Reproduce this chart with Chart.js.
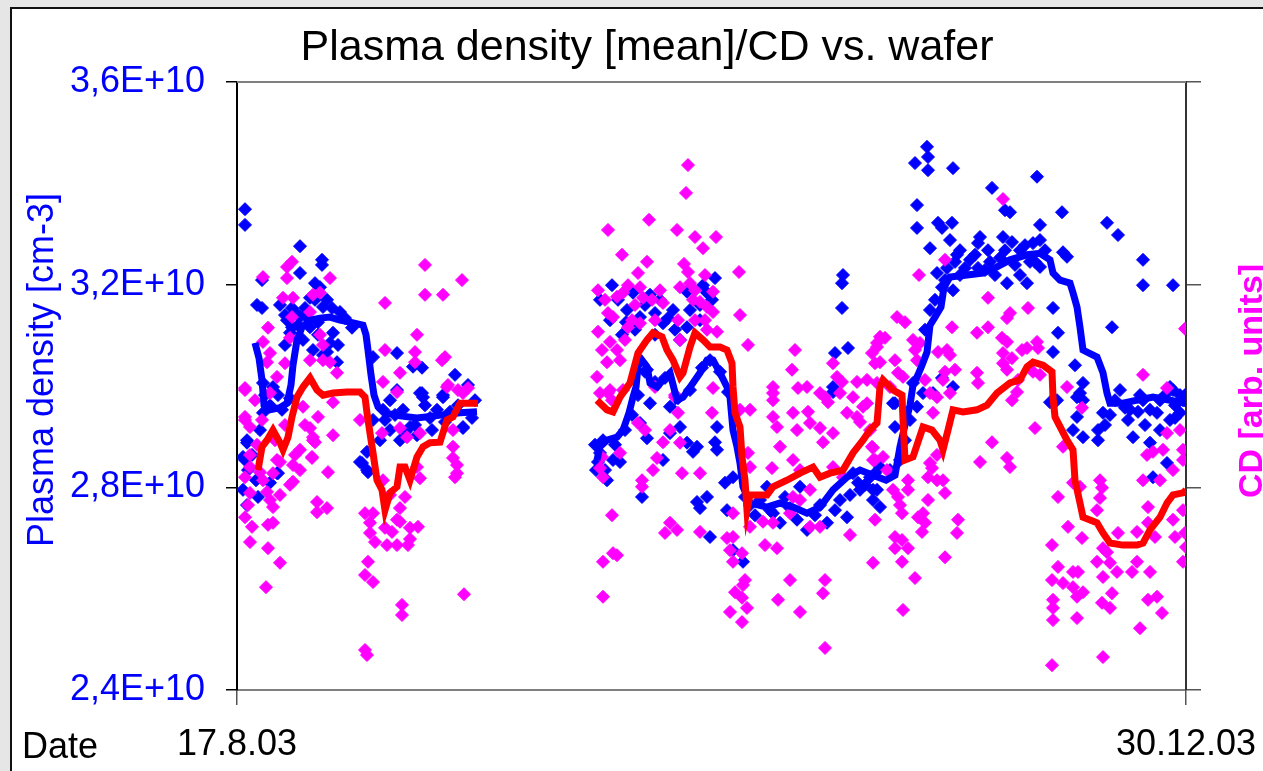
<!DOCTYPE html>
<html>
<head>
<meta charset="utf-8">
<title>Plasma density [mean]/CD vs. wafer</title>
<script src="https://cdn.jsdelivr.net/npm/chart.js@4.4.1/dist/chart.umd.min.js"></script>
<style>
    html, body { margin: 0; padding: 0; width: 1263px; height: 771px; overflow: hidden; background: #e6e6e6; }
    #frame { position: absolute; left: 10px; top: 7px; width: 1300px; height: 800px; background: #fff; border: 2px solid #111; }
    #wrap { position: absolute; left: 0; top: 0; width: 1263px; height: 771px; }
</style>
</head>
<body>
<div id="frame"></div>
<div id="wrap"><canvas id="PlasmaChart" width="1263" height="771"></canvas></div>
<script>
var titleText = 'Plasma density [mean]/CD vs. wafer';
var yTitle = 'Plasma density [cm-3]';
var y2Title = 'CD [arb. units]';
var xTitle = 'Date';
var dateLabels = ['17.8.03', '30.12.03'];
var waferCount = 949;

// plasma density per wafer [1E10 cm-3]
var plasmaPoints = [
    [8,3.349],[8,3.318],[63,3.276],[85,3.249],[85,3.239],[63,3.223],[25,3.209],[78,3.203],[83,3.195],[20,3.160],
    [25,3.154],[43,3.160],[55,3.154],[73,3.174],[95,3.154],[86,3.156],[50,3.130],[55,3.116],[63,3.136],[73,3.116],
    [96,3.105],[101,3.081],[93,3.085],[100,3.047],[86,3.061],[76,3.071],[160,3.065],[176,3.038],[185,3.036],[136,3.057],
    [218,3.022],[231,3.002],[206,2.978],[186,2.978],[183,2.986],[166,2.953],[146,2.953],[136,2.933],[153,2.913],[143,2.893],
    [226,2.917],[200,2.953],[173,2.919],[125,2.848],[131,2.830],[36,2.998],[26,3.006],[10,2.893],[6,2.860],[40,2.828],
    [26,2.947],[10,2.888],[8,2.854],[11,2.834],[33,2.809],[21,2.781],[10,2.765],[41,2.828],[123,2.850],[130,2.834],
    [130,2.870],[160,2.992],[185,2.986],[206,2.982],[226,2.919],[28,2.982],[33,2.962],[45,2.953],[53,2.976],[41,2.982],
    [148,2.933],[158,2.943],[168,2.909],[178,2.923],[193,2.937],[213,2.949],[153,2.972],[188,2.962],[66,3.091],[68,3.140],
    [81,3.126],[108,3.134],[115,3.115],[238,2.972],[235,2.937],
    [48,3.140],[58,3.146],[68,3.154],[78,3.170],[61,3.120],[53,3.105],[90,3.170],[103,3.146],[81,3.101],[90,3.067],
    [48,3.081],[15,2.864],[19,2.814],[6,2.795],[23,2.913],[195,2.913],[208,2.929],[221,2.962],[163,2.893],[180,2.903],
    [478,3.213],[450,3.186],[470,3.184],[396,3.184],[390,3.150],[436,3.150],[426,3.124],[450,3.116],[385,3.101],[403,3.136],
    [418,3.144],[443,3.091],[606,3.219],[605,3.203],[605,3.154],[598,3.065],[611,3.075],[596,2.988],[410,3.032],[413,2.966],
    [433,2.959],[473,3.051],[403,2.927],[410,2.897],[443,2.919],[433,2.907],[450,2.888],[456,2.870],[460,2.880],[480,2.919],
    [478,2.889],[480,2.874],[426,2.854],[376,2.854],[370,2.814],[363,2.868],[405,2.781],[460,2.771],[470,2.781],[463,2.759],
    [473,2.702],[488,2.809],[496,2.820],[490,2.755],[506,2.653],[496,2.676],[530,2.801],[536,2.749],[543,2.730],[570,2.716],
    [590,2.730],[610,2.741],[563,2.801],[596,2.998],[621,2.809],[633,2.820],[636,2.795],[636,2.775],[638,2.828],[616,2.828],
    [361,2.850],[368,2.834],[378,2.884],[388,2.913],[395,2.943],[401,2.982],[408,3.028],[418,3.008],[428,3.016],[441,2.976],
    [453,2.992],[465,3.036],[483,3.028],[491,2.988],[363,3.170],[373,3.130],[413,3.180],[463,3.160],[375,3.199],
    [513,2.765],[523,2.775],[553,2.759],[578,2.745],[603,2.775],[623,2.795],[548,2.781],[583,2.765],[518,2.745],
    [381,3.170],[389,3.126],[408,3.160],[423,3.170],[431,3.134],[453,3.150],[463,3.130],[475,3.170],[466,3.199],[398,3.111],
    [418,3.101],[438,3.111],[358,2.884],[366,2.893],[383,2.850],[359,2.834],[508,2.781],[533,2.755],[560,2.736],[598,2.755],
    [613,2.785],[628,2.805],
    [690,3.472],[691,3.452],[691,3.426],[678,3.440],[716,3.430],[800,3.413],[755,3.391],[768,3.347],[773,3.343],[825,3.343],
    [680,3.357],[680,3.312],[701,3.322],[715,3.322],[705,3.312],[803,3.318],[870,3.322],[881,3.298],[713,3.288],[743,3.294],
    [741,3.282],[751,3.268],[766,3.294],[775,3.284],[796,3.282],[803,3.288],[693,3.272],[720,3.259],[710,3.233],[700,3.223],
    [741,3.233],[770,3.203],[790,3.203],[803,3.235],[826,3.264],[830,3.255],[906,3.249],[906,3.199],[936,3.199],[705,3.195],
    [716,3.189],[816,3.154],[821,3.105],[816,3.067],[875,3.116],[838,3.041],[846,3.006],[840,2.978],[820,2.972],[933,2.998],
    [948,2.972],[705,3.016],[716,2.998],[658,2.966],[696,2.986],[680,2.959],[676,3.006],[686,2.986],[656,2.966],[658,2.919],
    [643,2.840],[640,2.795],[643,2.761],[843,2.986],[846,2.972],[840,2.939],[836,2.913],[846,2.899],[861,2.913],[861,2.893],
    [866,2.947],[896,2.899],[913,2.888],[930,2.848],[916,2.820],[936,2.992],[813,2.968],[906,2.972],[920,2.947],[933,2.933],
    [943,2.947],[946,2.972],[893,2.953],[723,3.219],[748,3.229],[763,3.253],[783,3.268],[793,3.245],[733,3.249],[878,2.972],
    [888,2.957],[903,2.982],[923,2.972],[938,2.962],[948,2.982],[873,2.943],[928,2.982],[883,2.992],[688,3.111],[693,3.150],
    [698,3.170],[673,2.933],[668,2.893],[663,2.854],[653,2.834],
    [708,3.209],[718,3.245],[728,3.233],[738,3.259],[753,3.245],[758,3.219],[768,3.268],[778,3.239],[788,3.278],[798,3.245],
    [808,3.268],[783,3.219],[723,3.268],[868,2.923],[891,2.933],[908,2.923],[923,2.913],[938,2.937],[913,2.953],[943,2.982],
    [901,2.949]
];

// CD per wafer [arb. units]
var cdPoints = [
    [55,1.245],[50,1.235],[26,1.215],[50,1.213],[93,1.213],[188,1.239],[225,1.209],[188,1.180],[206,1.180],[148,1.164],
    [46,1.174],[56,1.174],[76,1.180],[83,1.184],[55,1.136],[73,1.146],[31,1.115],[26,1.087],[53,1.095],[83,1.101],
    [86,1.081],[180,1.101],[148,1.071],[178,1.067],[178,1.047],[205,1.051],[208,1.057],[33,1.065],[30,1.047],[73,1.051],
    [86,1.051],[93,1.047],[48,1.045],[100,1.026],[40,1.018],[163,1.026],[146,1.008],[211,1.002],[231,0.996],[221,0.992],
    [8,0.996],[33,0.986],[160,0.988],[96,0.968],[66,0.959],[81,0.939],[8,0.939],[13,0.919],[73,0.917],[96,0.903],
    [76,0.899],[76,0.893],[63,0.874],[75,0.858],[91,0.830],[56,0.844],[40,0.854],[23,0.830],[145,0.907],[163,0.917],
    [170,0.899],[183,0.907],[216,0.880],[216,0.858],[220,0.844],[220,0.828],[123,0.933],[180,0.840],[8,0.992],[8,0.933],
    [20,0.884],[13,0.840],[8,0.820],[13,0.789],[26,0.814],[36,0.828],[30,0.791],[43,0.785],[33,0.775],[36,0.761],
    [11,0.765],[8,0.741],[15,0.722],[13,0.692],[31,0.726],[36,0.730],[31,0.680],[43,0.651],[29,0.603],[53,0.805],
    [56,0.811],[43,0.850],[63,0.834],[75,0.860],[68,0.923],[78,0.889],[80,0.771],[80,0.751],[90,0.759],[128,0.749],
    [136,0.749],[133,0.730],[133,0.710],[138,0.692],[148,0.720],[155,0.712],[150,0.686],[160,0.686],[160,0.736],[163,0.732],
    [173,0.720],[181,0.722],[173,0.698],[171,0.686],[168,0.781],[183,0.818],[163,0.759],[146,0.814],[153,0.785],[131,0.653],
    [128,0.627],[136,0.613],[165,0.568],[165,0.548],[128,0.479],[130,0.469],[227,0.589],[218,0.820],[216,0.913],[210,0.998],
    [226,0.986],[18,0.972],[25,0.933],[38,0.893],[48,0.923],[58,0.864],[13,0.864],
    [451,1.436],[449,1.381],[412,1.328],[371,1.308],[440,1.308],[458,1.294],[479,1.294],[466,1.272],[385,1.259],[410,1.245],
    [447,1.241],[451,1.225],[401,1.223],[468,1.219],[502,1.225],[361,1.189],[391,1.199],[403,1.195],[380,1.176],[386,1.184],
    [443,1.195],[458,1.189],[476,1.186],[406,1.174],[415,1.170],[426,1.164],[456,1.170],[463,1.166],[470,1.156],[371,1.144],
    [376,1.136],[503,1.140],[476,1.146],[441,1.130],[458,1.130],[395,1.130],[403,1.124],[391,1.116],[361,1.107],[470,1.111],
    [480,1.107],[373,1.087],[443,1.091],[365,1.071],[380,1.071],[511,1.081],[558,1.071],[370,1.047],[360,1.018],[373,0.992],
    [386,0.992],[383,1.051],[418,0.998],[438,0.978],[476,0.996],[503,0.953],[536,0.998],[555,1.032],[561,0.996],[570,0.998],
    [583,0.986],[596,1.045],[600,1.018],[605,1.008],[620,1.008],[630,1.012],[635,1.065],[640,1.085],[638,1.045],[536,0.972],
    [556,0.947],[571,0.949],[591,0.968],[616,0.978],[626,0.959],[475,0.947],[513,0.953],[363,0.986],[371,0.986],[375,0.972],
    [438,0.982],[401,0.927],[408,0.913],[433,0.913],[441,0.947],[426,0.889],[443,0.888],[420,0.858],[416,0.834],[445,0.828],
    [463,0.828],[405,0.814],[405,0.801],[365,0.860],[363,0.838],[366,0.820],[383,0.868],[375,0.745],[433,0.730],[440,0.716],
    [428,0.710],[463,0.712],[490,0.700],[496,0.702],[493,0.676],[505,0.670],[496,0.653],[528,0.686],[540,0.680],[511,0.868],
    [513,0.840],[536,0.986],[536,0.939],[540,0.919],[543,0.880],[535,0.838],[560,0.913],[573,0.927],[583,0.917],[586,0.889],
    [596,0.907],[556,0.854],[563,0.834],[588,0.978],[603,0.986],[610,0.947],[620,0.939],[623,0.929],[630,0.966],[635,0.880],
    [638,0.854],[596,0.840],[606,0.820],[573,0.795],[556,0.781],[563,0.775],[553,0.749],[536,0.730],[526,0.732],[513,0.722],
    [496,0.749],[573,0.722],[583,0.722],[613,0.706],[636,0.651],[376,0.670],[366,0.653],[380,0.666],[508,0.617],[506,0.607],
    [498,0.593],[505,0.582],[510,0.562],[493,0.554],[505,0.534],[541,0.578],[553,0.617],[563,0.554],[588,0.617],[586,0.591],
    [588,0.483],[366,0.584],[368,1.170],[398,1.160],[423,1.189],[453,1.203],[468,1.130],[388,1.091],[418,1.130],
    [766,1.369],[708,1.249],[682,1.219],[751,1.174],[791,1.154],[773,1.144],[770,1.134],[660,1.136],[668,1.126],[715,1.116],
    [751,1.116],[740,1.105],[948,1.113],[643,1.097],[648,1.095],[676,1.091],[683,1.085],[765,1.095],[770,1.087],[640,1.077],
    [678,1.071],[701,1.067],[710,1.071],[713,1.061],[785,1.071],[800,1.087],[801,1.075],[790,1.075],[766,1.065],[775,1.055],
    [643,1.047],[658,1.051],[680,1.051],[766,1.045],[770,1.032],[740,1.026],[708,1.028],[718,1.032],[666,1.018],[661,1.026],
    [688,1.012],[706,1.012],[741,1.006],[781,1.012],[796,1.028],[803,1.022],[906,1.022],[930,0.996],[830,0.998],[640,1.006],
    [653,0.998],[693,0.986],[700,0.978],[713,0.986],[775,0.972],[780,0.988],[845,0.957],[696,0.947],[798,0.917],[755,0.889],
    [743,0.850],[770,0.858],[773,0.840],[826,0.880],[821,0.781],[815,0.686],[821,0.643],[815,0.617],[816,0.578],[816,0.562],
    [816,0.538],[815,0.449],[831,0.722],[845,0.700],[836,0.633],[841,0.633],[826,0.611],[836,0.603],[846,0.593],[840,0.584],
    [840,0.542],[836,0.809],[843,0.801],[863,0.814],[865,0.799],[863,0.779],[860,0.755],[866,0.680],[870,0.672],[860,0.653],
    [866,0.623],[873,0.651],[880,0.633],[875,0.591],[865,0.572],[873,0.562],[895,0.633],[900,0.653],[881,0.710],[900,0.712],
    [913,0.633],[911,0.578],[920,0.584],[925,0.552],[903,0.522],[866,0.465],[911,0.761],[911,0.730],[918,0.702],[938,0.702],
    [936,0.736],[946,0.755],[948,0.710],[949,0.682],[946,0.653],[926,0.874],[936,0.834],[946,0.874],[946,0.854],[923,0.814],
    [906,0.814],[910,0.864],[916,0.870],[930,0.907],[943,0.913],[633,0.913],[638,0.736],[658,0.702],[665,0.696],[658,0.680],
    [671,0.680],[665,0.653],[678,0.621],[666,0.558],[708,0.662],[720,0.710],[721,0.736],[706,0.814],[708,0.789],[691,0.775],
    [681,0.741],[686,0.749],[688,0.730],[685,0.712],[656,0.795],[661,0.781],[663,0.765],[665,0.749],[671,0.795],[671,0.814],
    [691,0.820],[695,0.838],[700,0.814],[693,0.848],[700,0.864],[646,0.860],[650,0.834],[636,0.878],[636,0.854]
];

// moving averages (null = no wafers in that period)
var plasmaAvg = [
    [18,3.085],[22,3.055],[25,3.012],[27,2.962],[33,2.953],[43,2.957],[50,2.966],[54,3.002],[56,3.041],[60,3.091],
    [65,3.116],[73,3.130],[83,3.134],[93,3.136],[103,3.130],[113,3.126],[126,3.120],[129,3.101],[131,3.071],[134,3.022],
    [137,2.982],[141,2.959],[148,2.947],[163,2.941],[180,2.937],[206,2.943],[223,2.947],[240,2.949],[300,null],
    [360,2.854],[363,2.880],[370,2.893],[380,2.899],[386,2.913],[392,2.947],[396,2.978],[399,2.998],[401,3.038],[405,3.051],
    [410,3.038],[413,3.006],[420,2.998],[426,3.012],[433,3.026],[440,2.972],[446,2.978],[456,3.006],[463,3.026],[470,3.051],
    [476,3.051],[483,3.026],[490,2.998],[493,2.978],[496,2.913],[500,2.880],[503,2.848],[506,2.801],[513,2.769],[530,2.761],
    [543,2.769],[556,2.761],[570,2.749],[583,2.761],[596,2.795],[610,2.820],[623,2.834],[636,2.824],[649,2.814],[658,2.824],
    [663,2.880],[668,2.923],[673,2.962],[676,3.002],[681,3.022],[685,3.041],[690,3.067],[693,3.120],[698,3.136],[704,3.156],
    [707,3.195],[713,3.215],[730,3.219],[746,3.223],[760,3.235],[773,3.249],[790,3.259],[803,3.262],[813,3.249],[816,3.223],
    [823,3.209],[833,3.203],[836,3.184],[840,3.156],[843,3.116],[846,3.071],[860,3.057],[866,3.026],[870,2.986],[873,2.966],
    [886,2.966],[900,2.972],[916,2.978],[933,2.972],[949,2.966]
];
var cdAvg = [
    [21,0.834],[25,0.880],[30,0.893],[36,0.913],[43,0.888],[46,0.874],[51,0.899],[55,0.939],[60,0.978],[66,0.998],
    [73,1.016],[80,0.992],[86,0.982],[96,0.986],[110,0.988],[123,0.988],[128,0.978],[130,0.947],[133,0.907],[136,0.868],
    [140,0.814],[145,0.795],[148,0.755],[153,0.789],[160,0.801],[163,0.840],[168,0.840],[173,0.814],[180,0.860],[186,0.880],
    [193,0.888],[203,0.889],[210,0.933],[216,0.939],[223,0.966],[233,0.966],[241,0.966],[300,null],
    [360,0.972],[370,0.953],[376,0.949],[383,0.978],[393,1.006],[401,1.065],[410,1.091],[416,1.105],[425,1.097],[430,1.071],
    [436,1.051],[443,1.018],[446,1.026],[453,1.077],[458,1.105],[466,1.091],[473,1.077],[483,1.077],[490,1.071],[495,1.045],
    [496,0.998],[498,0.947],[503,0.919],[505,0.860],[508,0.814],[510,0.755],[513,0.785],[530,0.785],[536,0.801],[550,0.814],
    [563,0.828],[576,0.840],[583,0.820],[593,0.828],[606,0.834],[616,0.868],[626,0.893],[633,0.913],[640,0.927],[643,0.998],
    [646,1.012],[656,0.992],[665,0.982],[666,0.933],[668,0.854],[676,0.860],[686,0.919],[695,0.913],[703,0.893],[706,0.874],
    [711,0.913],[716,0.953],[726,0.949],[740,0.953],[750,0.962],[760,0.986],[773,1.006],[783,1.012],[790,1.038],[796,1.047],
    [806,1.041],[815,1.028],[816,0.978],[818,0.939],[830,0.893],[836,0.874],[838,0.814],[843,0.769],[846,0.741],[860,0.730],
    [866,0.710],[873,0.690],[886,0.686],[900,0.686],[906,0.690],[913,0.716],[923,0.741],[930,0.769],[936,0.785],[946,0.789],
    [949,0.795]
];

function toXY(list) {
    return list.map(function (p) { return { x: p[0], y: p[1] }; });
}

var FONT = '"Liberation Sans", Arial, sans-serif';
Chart.defaults.font.family = FONT;

// title, axis titles, "Date" and the top edge of the plot frame
var chartTexts = {
    id: 'chartTexts',
    beforeDatasetsDraw: function (chart) {
        var ctx = chart.ctx, a = chart.chartArea;
        ctx.save();
        ctx.strokeStyle = '#808080';
        ctx.lineWidth = 2;
        ctx.beginPath();
        ctx.moveTo(a.left, a.top);
        ctx.lineTo(a.right, a.top);
        ctx.stroke();
        ctx.restore();
    },
    afterDraw: function (chart) {
        var ctx = chart.ctx;
        ctx.save();
        ctx.fillStyle = '#000';
        ctx.textBaseline = 'alphabetic';
        ctx.font = '43px ' + FONT;
        ctx.textAlign = 'center';
        ctx.fillText(titleText, 647, 60);

        ctx.font = '36px ' + FONT;
        ctx.textAlign = 'left';
        ctx.fillText(xTitle, 22, 758);

        ctx.save();
        ctx.translate(53, 370);
        ctx.rotate(-Math.PI / 2);
        ctx.textAlign = 'center';
        ctx.fillStyle = '#0000ff';
        ctx.fillText(yTitle, 0, 0);
        ctx.restore();

        ctx.save();
        ctx.translate(1262, 381);
        ctx.rotate(-Math.PI / 2);
        ctx.textAlign = 'center';
        ctx.fillStyle = '#ff00ff';
        ctx.font = 'bold 34px ' + FONT;
        ctx.fillText(y2Title, 0, 0);
        ctx.restore();
        ctx.restore();
    }
};

new Chart(document.getElementById('PlasmaChart'), {
    type: 'scatter',
    data: {
        datasets: [{
            label: 'CD (moving average)',
            data: toXY(cdAvg),
            yAxisID: 'y2',
            showLine: true,
            borderColor: '#ff0000',
            borderWidth: 7,
            pointRadius: 0,
            order: 1
        }, {
            label: 'Plasma density (moving average)',
            data: toXY(plasmaAvg),
            yAxisID: 'y',
            showLine: true,
            borderColor: '#0000ff',
            borderWidth: 7,
            pointRadius: 0,
            order: 2
        }, {
            label: 'CD',
            data: toXY(cdPoints),
            yAxisID: 'y2',
            pointStyle: 'rectRot',
            pointRadius: 6.5,
            pointBorderWidth: 1,
            backgroundColor: '#ff00ff',
            borderColor: '#ff00ff',
            order: 3
        }, {
            label: 'Plasma density',
            data: toXY(plasmaPoints),
            yAxisID: 'y',
            pointStyle: 'rectRot',
            pointRadius: 6.5,
            pointBorderWidth: 1,
            backgroundColor: '#0000ff',
            borderColor: '#0000ff',
            order: 4
        }]
    },
    options: {
        responsive: false,
        animation: false,
        events: [],
        layout: { padding: { top: 82, left: 0, right: 0, bottom: 0 } },
        plugins: {
            legend: { display: false },
            title: { display: false },
            tooltip: { enabled: false }
        },
        scales: {
            x: {
                type: 'linear',
                position: 'bottom',
                min: 0,
                max: waferCount,
                afterBuildTicks: function (scale) {
                    scale.ticks = [{ value: 0 }, { value: waferCount }];
                },
                afterFit: function (scale) {
                    scale.height = 81;
                    scale.paddingLeft = 0;
                    scale.paddingRight = 0;
                },
                ticks: {
                    color: '#000',
                    font: { size: 36 },
                    padding: 18,
                    maxRotation: 0,
                    autoSkip: false,
                    callback: function (value, index) { return dateLabels[index]; }
                },
                grid: { drawOnChartArea: false, tickLength: 15, color: '#555', lineWidth: 1.5 },
                border: { color: '#808080', width: 2 }
            },
            y: {
                position: 'left',
                min: 2.4,
                max: 3.6,
                afterFit: function (scale) {
                    scale.width = 237;
                    scale.paddingTop = 0;
                    scale.paddingBottom = 0;
                },
                ticks: {
                    stepSize: 0.4,
                    color: '#0000ff',
                    font: { size: 36 },
                    padding: 21,
                    callback: function (v) { return v.toFixed(1).replace('.', ',') + 'E+10'; }
                },
                grid: { drawOnChartArea: false, tickLength: 11, color: '#000', lineWidth: 1.5 },
                border: { color: '#000', width: 2 }
            },
            y2: {
                position: 'right',
                min: 0.4,
                max: 1.6,
                afterFit: function (scale) {
                    scale.width = 77;
                    scale.paddingTop = 0;
                    scale.paddingBottom = 0;
                },
                ticks: { stepSize: 0.4, display: false },
                grid: { drawOnChartArea: false, tickLength: 15, color: '#555', lineWidth: 1.5 },
                border: { color: '#333', width: 2 }
            }
        }
    },
    plugins: [chartTexts]
});
</script>
</body>
</html>
